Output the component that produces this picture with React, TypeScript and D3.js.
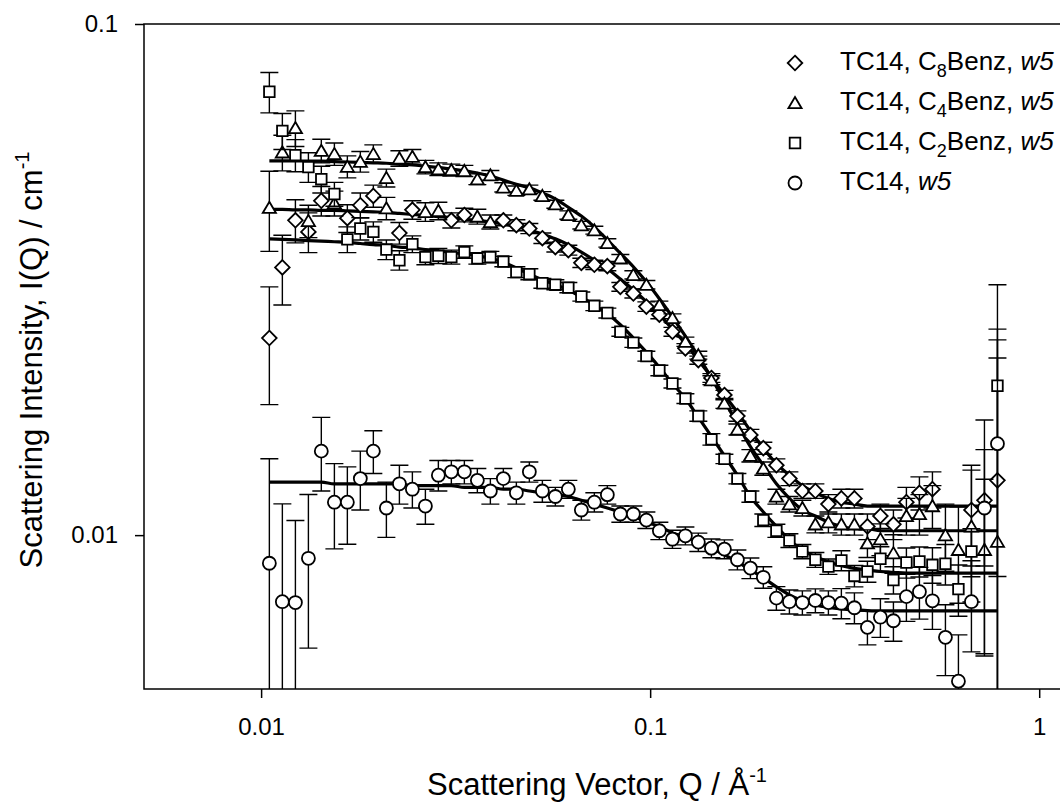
import React, { useEffect, useRef } from 'react'
import * as d3 from 'd3'

// Q grid, 1/Å
const q = [0.01050, 0.01134, 0.01225, 0.01323, 0.01428, 0.01543, 0.01666, 0.01799, 0.01943, 0.02099,
  0.02267, 0.02448, 0.02644, 0.02855, 0.03083, 0.03330, 0.03596, 0.03884, 0.04194, 0.04530,
  0.04892, 0.05284, 0.05706, 0.06162, 0.06655, 0.07187, 0.07762, 0.08383, 0.09054, 0.09779,
  0.1056, 0.1141, 0.1232, 0.1330, 0.1437, 0.1552, 0.1676, 0.1810, 0.1954, 0.2111,
  0.2280, 0.2462, 0.2659, 0.2872, 0.3101, 0.3350, 0.3618, 0.3907, 0.4220, 0.4557,
  0.4922, 0.5316, 0.5741, 0.6200, 0.6696, 0.7232, 0.7811]

// TC14, C8Benz, w5 (diamonds)
const c8Benz = [0.0243, 0.0334, 0.0413, 0.0392, 0.0451, null, 0.0417, 0.0442, 0.0461, null,
  0.0390, 0.0433, null, null, 0.0413, 0.0423, null, null, 0.0413, 0.0404,
  0.0398, 0.0381, 0.0366, 0.0361, 0.0341, 0.0338, 0.0336, 0.0306, 0.0297, 0.0280,
  0.0270, 0.0250, 0.0232, 0.0220, 0.0203, 0.0188, 0.0171, 0.0157, 0.0148, 0.0137,
  0.0129, 0.0122, 0.0122, 0.0115, 0.0118, 0.0118, 0.0104, 0.0109, 0.0105, 0.0116,
  0.0121, 0.0123, null, null, 0.0112, 0.0117, 0.0128]
const c8BenzErr = [0.0063, 0.0052, 0.0040, 0.0035, 0.0030, 0, 0.0026, 0.0025, 0.0023, 0,
  0.0019, 0.0018, 0, 0, 0.0014, 0.0013, 0, 0, 0.0010, 0.0010,
  0.0009, 0.0009, 0.0008, 0.0008, 0.0007, 0.0007, 0.0007, 0.0006, 0.0006, 0.0006,
  0.0005, 0.0005, 0.0005, 0.0004, 0.0004, 0.0004, 0.0004, 0.0004, 0.0004, 0.0004,
  0.0004, 0.0004, 0.0004, 0.0005, 0.0005, 0.0005, 0.0006, 0.0006, 0.0007, 0.0008,
  0.0009, 0.0010, 0, 0, 0.0025, 0.0030, 0.0113]
const c8BenzFit = [0.0434, 0.0434, 0.0433, 0.0433, 0.0432, 0.0432, 0.0431, 0.0430, 0.0429, 0.0428,
  0.0426, 0.0424, 0.0422, 0.0420, 0.0418, 0.0415, 0.0413, 0.0410, 0.0406, 0.0402,
  0.0395, 0.0388, 0.0380, 0.0370, 0.0358, 0.0345, 0.0332, 0.0317, 0.0302, 0.0286,
  0.0270, 0.0253, 0.0237, 0.0220, 0.0204, 0.0188, 0.0174, 0.0160, 0.0148, 0.0138,
  0.0131, 0.0125, 0.0121, 0.0118, 0.0116, 0.0115, 0.0114, 0.0114, 0.0114, 0.0114,
  0.0114, 0.0114, 0.0114, 0.0114, 0.0114, 0.0114, 0.0114]

// TC14, C4Benz, w5 (triangles)
const c4Benz = [0.0437, 0.0561, 0.0626, null, 0.0565, 0.0557, 0.0526, 0.0538, 0.0557, 0.0500,
  0.0546, 0.0550, 0.0525, 0.0520, 0.0518, 0.0516, 0.0497, 0.0506, 0.0479, 0.0472,
  0.0475, 0.0461, 0.0444, 0.0423, 0.0404, 0.0395, 0.0373, 0.0348, 0.0323, 0.0309,
  0.0282, 0.0266, 0.0239, 0.0225, 0.0201, 0.0181, 0.0161, 0.0143, 0.0135, 0.0119,
  0.0115, 0.0113, 0.0105, 0.0106, 0.0105, 0.0105, 0.00964, 0.00982, 0.00922, 0.0109,
  0.0110, 0.0114, 0.0100, 0.00936, 0.0104, 0.00936, 0.00971]
const c4BenzErr = [0.0078, 0.0045, 0.0050, 0, 0.0030, 0.0028, 0.0026, 0.0025, 0.0023, 0.0020,
  0.0019, 0.0018, 0.0016, 0.0015, 0.0014, 0.0013, 0.0012, 0.0011, 0.0010, 0.0010,
  0.0009, 0.0009, 0.0008, 0.0008, 0.0007, 0.0007, 0.0007, 0.0006, 0.0006, 0.0006,
  0.0005, 0.0005, 0.0005, 0.0004, 0.0004, 0.0004, 0.0004, 0.0004, 0.0004, 0.0004,
  0.0004, 0.0004, 0.0004, 0.0005, 0.0005, 0.0005, 0.0006, 0.0007, 0.0008, 0.0009,
  0.0010, 0.0011, 0.0015, 0.0020, 0.0030, 0.0035, 0.0125]
// second set of triangle points at low Q
const c4BenzB = [null, null, null, 0.0412, null, 0.0446, null, null, null, 0.0436,
  null, null, 0.0429, 0.0431, null, null, 0.0420, 0.0410, null, null,
  null, null, null, null, null, null, null, null, null, null,
  null, null, null, null, null, null, null, null, null, null,
  null, null, null, null, null, null, null, null, null, null,
  null, null, null, null, null, null, null]
const c4BenzBErr = [0, 0, 0, 0.0030, 0, 0.0025, 0, 0, 0, 0.0022,
  0, 0, 0.0018, 0.0017, 0, 0, 0.0014, 0.0013, 0, 0,
  0, 0, 0, 0, 0, 0, 0, 0, 0, 0,
  0, 0, 0, 0, 0, 0, 0, 0, 0, 0,
  0, 0, 0, 0, 0, 0, 0, 0, 0, 0,
  0, 0, 0, 0, 0, 0, 0]
const c4BenzFit = [0.0540, 0.0540, 0.0540, 0.0539, 0.0539, 0.0538, 0.0537, 0.0536, 0.0535, 0.0534,
  0.0532, 0.0530, 0.0527, 0.0524, 0.0520, 0.0516, 0.0511, 0.0504, 0.0495, 0.0486,
  0.0478, 0.0467, 0.0455, 0.0438, 0.0421, 0.0401, 0.0378, 0.0356, 0.0335, 0.0313,
  0.0290, 0.0267, 0.0245, 0.0224, 0.0203, 0.0183, 0.0165, 0.0149, 0.0137, 0.0126,
  0.0118, 0.0112, 0.0109, 0.0106, 0.0104, 0.0103, 0.0103, 0.0102, 0.0102, 0.0102,
  0.0102, 0.0102, 0.0102, 0.0102, 0.0102, 0.0102, 0.0102]

// TC14, C2Benz, w5 (squares)
const c2Benz = [0.0737, 0.0618, 0.0554, 0.0525, 0.0497, 0.0465, 0.0379, 0.0398, 0.0392, 0.0362,
  0.0345, 0.0371, 0.0350, 0.0352, 0.0350, 0.0358, 0.0348, 0.0350, 0.0343, 0.0327,
  0.0324, 0.0311, 0.0309, 0.0305, 0.0293, 0.0281, 0.0272, 0.0250, 0.0238, 0.0224,
  0.0210, 0.0198, 0.0185, 0.0171, 0.0154, 0.0141, 0.0129, 0.0119, 0.0107, 0.0102,
  0.00976, 0.00929, 0.00895, 0.00868, 0.00892, 0.00832, 0.00849, 0.00899, 0.00817, 0.00884,
  0.00888, 0.00875, 0.00879, 0.00784, 0.00929, null, 0.0196]
const c2BenzErr = [0.0067, 0.0050, 0.0040, 0.0035, 0.0030, 0.0025, 0.0022, 0.0020, 0.0018, 0.0016,
  0.0015, 0.0014, 0.0012, 0.0012, 0.0011, 0.0010, 0.0009, 0.0009, 0.0008, 0.0008,
  0.0008, 0.0007, 0.0007, 0.0007, 0.0006, 0.0006, 0.0006, 0.0005, 0.0005, 0.0005,
  0.0005, 0.0004, 0.0004, 0.0004, 0.0004, 0.0003, 0.0003, 0.0003, 0.0003, 0.0003,
  0.0003, 0.0003, 0.0003, 0.0003, 0.0004, 0.0004, 0.0004, 0.0005, 0.0005, 0.0006,
  0.0006, 0.0007, 0.0008, 0.0009, 0.0010, 0, 0.0113]
const c2BenzFit = [0.0380, 0.0379, 0.0378, 0.0377, 0.0376, 0.0375, 0.0374, 0.0372, 0.0370, 0.0369,
  0.0366, 0.0365, 0.0362, 0.0360, 0.0357, 0.0355, 0.0352, 0.0348, 0.0342, 0.0333,
  0.0324, 0.0316, 0.0309, 0.0302, 0.0292, 0.0282, 0.0271, 0.0258, 0.0243, 0.0228,
  0.0213, 0.0198, 0.0185, 0.0170, 0.0156, 0.0143, 0.0131, 0.0119, 0.0111, 0.0104,
  0.00979, 0.00936, 0.00907, 0.00887, 0.00871, 0.00861, 0.00855, 0.00849, 0.00846, 0.00843,
  0.00843, 0.00843, 0.00843, 0.00843, 0.00843, 0.00843, 0.00843]

// TC14, w5 (circles)
const tc14 = [0.00881, 0.00741, 0.00738, 0.00901, 0.0146, 0.0116, 0.0116, 0.0129, 0.0146, 0.0113,
  0.0126, 0.0123, 0.0114, 0.0131, 0.0133, 0.0133, 0.0128, 0.0122, 0.0129, 0.0121,
  0.0133, 0.0122, 0.0119, 0.0123, 0.0112, 0.0116, 0.0120, 0.0110, 0.0110, 0.0107,
  0.0102, 0.00982, 0.00997, 0.00969, 0.00943, 0.00939, 0.00895, 0.00862, 0.00827, 0.00753,
  0.00741, 0.00738, 0.00745, 0.00738, 0.00736, 0.00721, 0.00660, 0.00691, 0.00680, 0.00758,
  0.00775, 0.00744, 0.00631, 0.00518, 0.00741, 0.0113, 0.0151]
const tc14Err = [0.0053, 0.0041, 0.0033, 0.0030, 0.0024, 0.0022, 0.0020, 0.0017, 0.0014, 0.0014,
  0.0011, 0.0010, 0.0009, 0.0009, 0.0007, 0.0007, 0.0007, 0.0007, 0.0006, 0.0006,
  0.0006, 0.0006, 0.0005, 0.0005, 0.0005, 0.0005, 0.0005, 0.0004, 0.0004, 0.0004,
  0.0004, 0.0004, 0.0004, 0.0004, 0.0004, 0.0004, 0.0004, 0.0004, 0.0004, 0.0004,
  0.0004, 0.0004, 0.0004, 0.0004, 0.0005, 0.0005, 0.0005, 0.0006, 0.0006, 0.0008,
  0.0009, 0.0009, 0.0010, 0.0012, 0.0015, 0.0055, 0.0102]
const tc14Fit = [0.0127, 0.0127, 0.0127, 0.0127, 0.0127, 0.0126, 0.0126, 0.0126, 0.0126, 0.0126,
  0.0126, 0.0125, 0.0125, 0.0125, 0.0125, 0.0124, 0.0124, 0.0124, 0.0123, 0.0123,
  0.0122, 0.0121, 0.0120, 0.0119, 0.0117, 0.0115, 0.0113, 0.0111, 0.0109, 0.0106,
  0.0104, 0.0101, 0.00992, 0.00970, 0.00944, 0.00915, 0.00887, 0.00855, 0.00825, 0.00792,
  0.00764, 0.00744, 0.00730, 0.00722, 0.00717, 0.00714, 0.00712, 0.00711, 0.00711, 0.00711,
  0.00711, 0.00711, 0.00711, 0.00711, 0.00711, 0.00711, 0.00711]

const xTicks = [0.01, 0.1, 1]
const yTicks = [0.01, 0.1]

const legendItems = [
  { shape: 'diamond', sub: '8' },
  { shape: 'triangle', sub: '4' },
  { shape: 'square', sub: '2' },
  { shape: 'circle', sub: null },
]

const FONT = '"Liberation Sans", Arial, Helvetica, sans-serif'

const shapes = {
  diamond: 'M0,-7.3L7.3,0L0,7.3L-7.3,0Z',
  triangle: 'M0,-6L6.6,5.2L-6.6,5.2Z',
  square: 'M-5.3,-5.3H5.3V5.3H-5.3Z',
  circle: d3.symbol(d3.symbolCircle, Math.PI * 6.5 * 6.5)(),
}

const series = [
  { values: c8Benz, err: c8BenzErr, shape: 'diamond' },
  { values: c4Benz, err: c4BenzErr, shape: 'triangle' },
  { values: c4BenzB, err: c4BenzBErr, shape: 'triangle' },
  { values: c2Benz, err: c2BenzErr, shape: 'square' },
  { values: tc14, err: tc14Err, shape: 'circle' },
]
const fits = [c8BenzFit, c4BenzFit, c2BenzFit, tc14Fit]

export default function App() {
  const ref = useRef<SVGSVGElement>(null)

  useEffect(() => {
    const svg = d3.select(ref.current)
    svg.selectAll('*').remove()

    const left = 144, right = 1070, top = 24, bottom = 689
    const x = d3.scaleLog().domain([0.005, 1.2]).range([left, right])
    const y = d3.scaleLog().domain([0.005, 0.1]).range([bottom, top])

    svg.append('clipPath').attr('id', 'plotArea')
      .append('rect').attr('x', left).attr('y', top)
      .attr('width', right - left).attr('height', bottom - top)

    const plot = svg.append('g').attr('clip-path', 'url(#plotArea)')

    // fitted curves
    const line = d3.line<number>()
      .x((d, i) => x(q[i]))
      .y(d => y(d))
      .curve(d3.curveMonotoneX)
    fits.forEach(f => {
      plot.append('path').attr('d', line(f))
        .attr('fill', 'none').attr('stroke', '#000').attr('stroke-width', 3.2)
    })

    // data with error bars
    series.forEach(s => {
      const pts = q.map((qv, i) => ({ q: qv, v: s.values[i], e: s.err[i] }))
        .filter(p => p.v != null)
      const g = plot.append('g')
      g.selectAll('path.bar').data(pts.filter(p => p.e > 0)).join('path')
        .attr('class', 'bar')
        .attr('d', p => {
          const cx = x(p.q)
          const y1 = y(p.v + p.e)
          const y0 = p.v - p.e > 0.001 ? y(p.v - p.e) : bottom + 30
          return `M${cx - 9},${y1}H${cx + 9}M${cx},${y1}V${y0}M${cx - 9},${y0}H${cx + 9}`
        })
        .attr('fill', 'none').attr('stroke', '#000').attr('stroke-width', 1.4)
      g.selectAll('path.sym').data(pts).join('path')
        .attr('class', 'sym')
        .attr('transform', p => `translate(${x(p.q)},${y(p.v)})`)
        .attr('d', shapes[s.shape])
        .attr('fill', '#fff').attr('stroke', '#000').attr('stroke-width', 1.8)
    })

    // frame
    svg.append('rect').attr('x', left).attr('y', top)
      .attr('width', right - left).attr('height', bottom - top)
      .attr('fill', 'none').attr('stroke', '#000').attr('stroke-width', 1.5)

    const xAxis = svg.append('g').attr('transform', `translate(0,${bottom})`)
      .call(d3.axisBottom(x).tickValues(xTicks).tickFormat(d => String(d))
        .tickSize(9).tickPadding(20))
    const yAxis = svg.append('g').attr('transform', `translate(${left},0)`)
      .call(d3.axisLeft(y).tickValues(yTicks).tickFormat(d => String(d))
        .tickSize(9).tickPadding(17))
    ;[xAxis, yAxis].forEach(a => {
      a.select('.domain').remove()
      a.selectAll('line').attr('stroke', '#000').attr('stroke-width', 1.5)
      a.selectAll('text').attr('font-family', FONT).attr('font-size', 24).attr('fill', '#000')
    })

    // axis titles
    const xt = svg.append('text').attr('x', 597).attr('y', 795)
      .attr('text-anchor', 'middle').attr('font-family', FONT).attr('font-size', 31)
    xt.append('tspan').text('Scattering Vector, Q / Å')
    xt.append('tspan').attr('dy', -13).attr('font-size', 20).text('-1')

    const yt = svg.append('text').attr('transform', 'translate(42,360) rotate(-90)')
      .attr('text-anchor', 'middle').attr('font-family', FONT).attr('font-size', 31)
    yt.append('tspan').text('Scattering Intensity, I(Q) / cm')
    yt.append('tspan').attr('dy', -13).attr('font-size', 20).text('-1')

    // legend
    const legend = svg.append('g')
    legendItems.forEach((item, i) => {
      const cy = 63 + i * 40
      legend.append('path').attr('transform', `translate(795,${cy})`)
        .attr('d', shapes[item.shape])
        .attr('fill', '#fff').attr('stroke', '#000').attr('stroke-width', 1.8)
      const t = legend.append('text').attr('x', 840).attr('y', cy + 7)
        .attr('font-family', FONT).attr('font-size', 26).style('white-space', 'pre')
      if (item.sub) {
        t.append('tspan').text('TC14, C')
        t.append('tspan').attr('dy', 7).attr('font-size', 18).text(item.sub)
        t.append('tspan').attr('dy', -7).text('Benz, ')
      } else {
        t.append('tspan').text('TC14, ')
      }
      t.append('tspan').attr('font-style', 'italic').text('w5')
    })
  }, [])

  return (
    <svg ref={ref} width={1060} height={802}
      style={{ position: 'absolute', left: 0, top: 0, background: '#fff' }} />
  )
}
